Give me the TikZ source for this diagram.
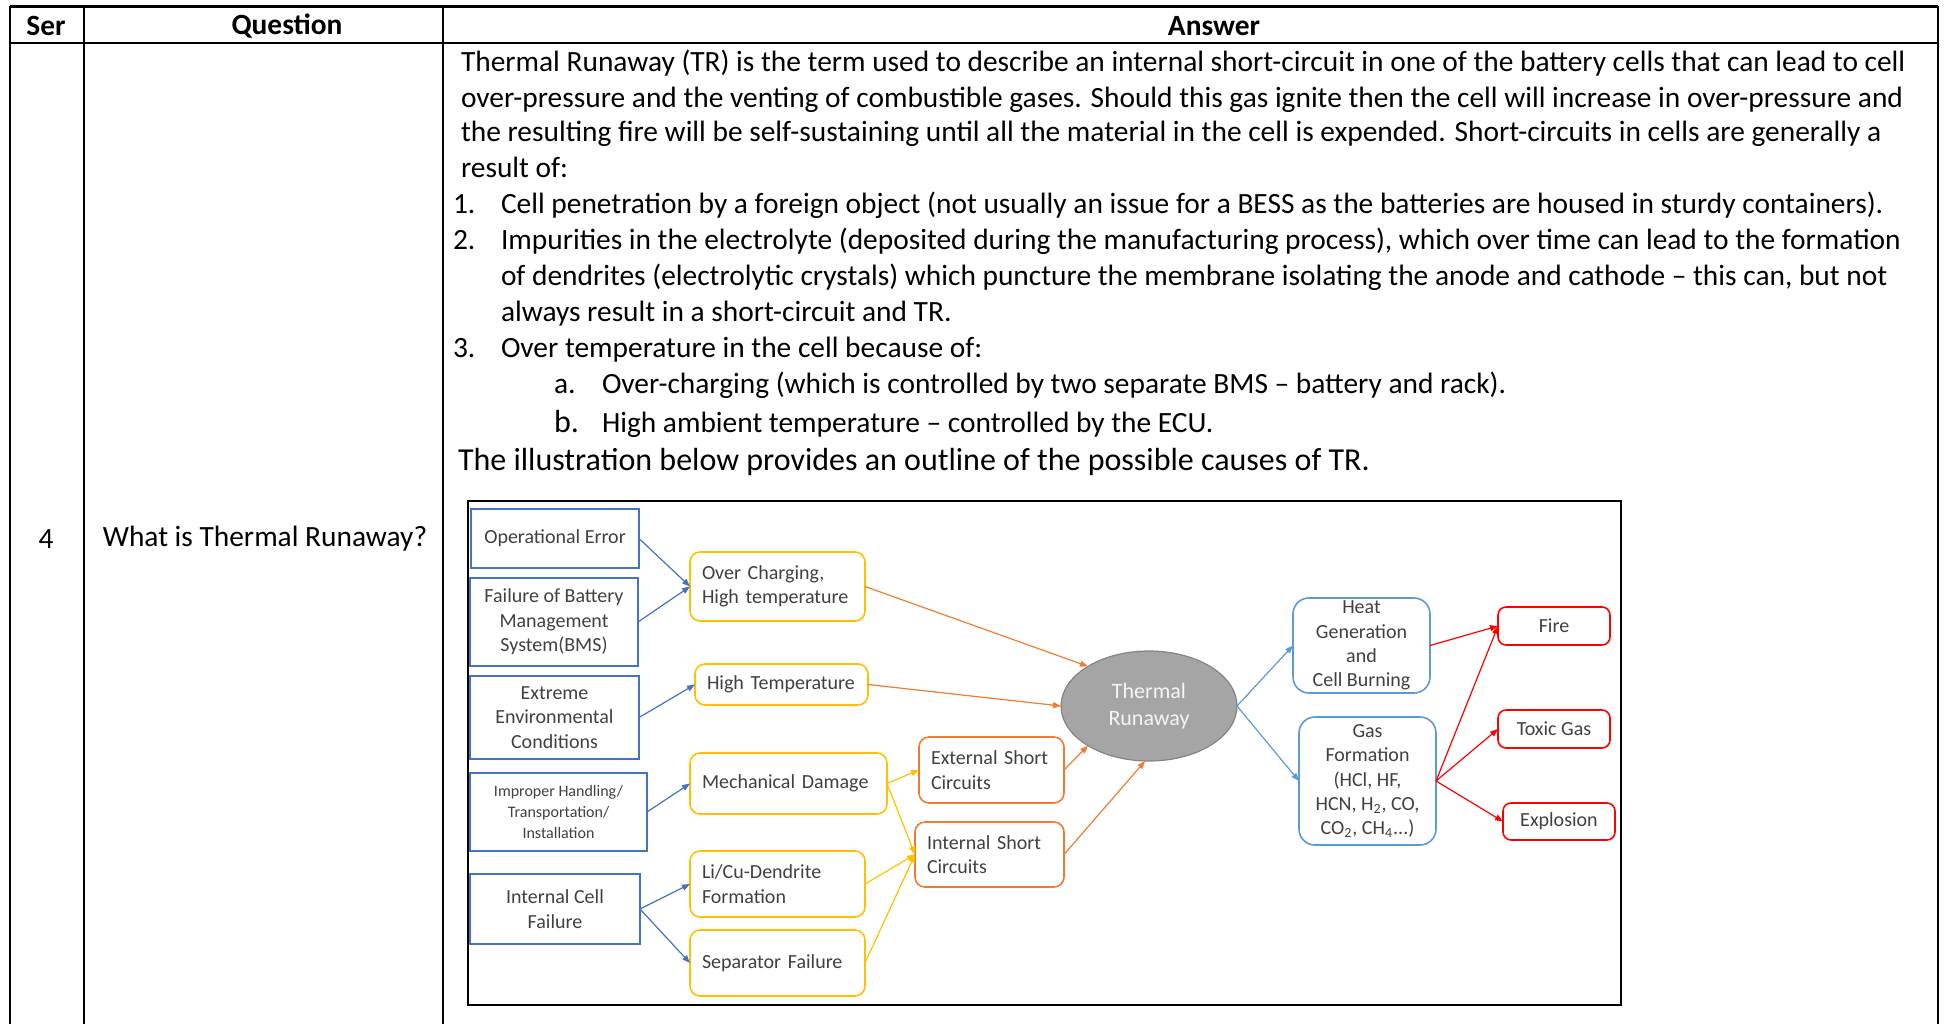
\documentclass[tikz,border=0pt]{standalone}
\usepackage{fontspec}
\setmainfont{Carlito}
\usetikzlibrary{arrows.meta,shapes.geometric}
\definecolor{causeblue}{HTML}{4472C4}
\definecolor{eventyellow}{HTML}{FFC000}
\definecolor{shortorange}{HTML}{ED7D31}
\definecolor{effectblue}{HTML}{5B9BD5}
\definecolor{hazardred}{HTML}{FF0000}
\definecolor{runawaygray}{HTML}{A5A5A5}
\definecolor{labelgray}{HTML}{404040}

\begin{document}
\begin{tikzpicture}[x=0.5pt, y=-0.5pt,
  every node/.style={inner sep=0pt, outer sep=0pt},
  headcell/.style={font=\fontsize{14.7}{17.7}\selectfont\bfseries},
  bodycell/.style={font=\fontsize{14.7}{17.7}\selectfont},
  textline/.style={bodycell, anchor=west, text height=10pt, text depth=3pt},
  diabox/.style={draw, line width=0.8pt, font=\fontsize{10}{12.2}\selectfont, text=labelgray, inner xsep=6pt, inner ysep=1pt},
  causebox/.style={diabox, draw=causeblue, align=center},
  eventbox/.style={diabox, draw=eventyellow, rounded corners=5pt, align=left},
  shortbox/.style={diabox, draw=shortorange, rounded corners=5pt, align=left},
  effectbox/.style={diabox, draw=effectblue, rounded corners=8pt, align=center},
  hazardbox/.style={diabox, draw=hazardred, rounded corners=4pt, align=center},
  link/.style={-{Triangle[length=4pt,width=3pt]}, line width=0.6pt},
]
\useasboundingbox (0,0) rectangle (1945,1024);

% table
\draw[line width=1.5pt] (10,6) -- (1938,6);
\draw[line width=1.3pt] (10,43) -- (1938,43);
\foreach \colx in {10,84,443,1938}
  \draw[line width=0.9pt] (\colx,6) -- (\colx,1024);

\node[headcell] (serHead) at (46,26) {Ser};
\node[headcell] (questionHead) at (287,26) {Question};
\node[headcell] (answerHead) at (1214,26) {Answer};
\node[bodycell] (serNo) at (46,539) {4};
\node[bodycell] (question) at (265,539) {What is Thermal Runaway?};

\node[textline] (para1) at (461,64) {Thermal Runaway (TR) is the term used to describe an internal short-circuit in one of the battery cells that can lead to cell};
\node[textline] (para2) at (461,100) {over-pressure and the venting of combustible gases. Should this gas ignite then the cell will increase in over-pressure and};
\node[textline] (para3) at (461,134) {the resulting fire will be self-sustaining until all the material in the cell is expended. Short-circuits in cells are generally a};
\node[textline] (para4) at (461,170) {result of:};
\node[textline] (num1) at (453,206) {1.};
\node[textline] (item1) at (501,206) {Cell penetration by a foreign object (not usually an issue for a BESS as the batteries are housed in sturdy containers).};
\node[textline] (num2) at (453,242) {2.};
\node[textline] (item2a) at (501,242) {Impurities in the electrolyte (deposited during the manufacturing process), which over time can lead to the formation};
\node[textline] (item2b) at (501,278) {of dendrites (electrolytic crystals) which puncture the membrane isolating the anode and cathode -- this can, but not};
\node[textline] (item2c) at (501,314) {always result in a short-circuit and TR.};
\node[textline] (num3) at (453,350) {3.};
\node[textline] (item3) at (501,350) {Over temperature in the cell because of:};
\node[textline] (subA) at (554,386) {a.};
\node[textline] (itemA) at (602,386) {Over-charging (which is controlled by two separate BMS -- battery and rack).};
\node[textline, font=\fontsize{16}{19}\selectfont] (subB) at (554,425) {b.};
\node[textline] (itemB) at (602,425) {High ambient temperature -- controlled by the ECU.};
\node[textline, font=\fontsize{16}{19}\selectfont] (outro) at (458,463) {The illustration below provides an outline of the possible causes of TR.};

% diagram
\draw[line width=1.2pt] (468,501) rectangle (1621,1005);

\node[causebox, minimum width=84pt, minimum height=29.5pt] (opErr) at (555,538.5) {Operational Error};
\node[causebox, minimum width=84pt, minimum height=44pt] (bmsFail) at (554,622) {Failure of Battery\\Management\\System(BMS)};
\node[causebox, minimum width=84.5pt, minimum height=41.5pt] (extEnv) at (554.5,717.5) {Extreme\\Environmental\\Conditions};
\node[causebox, minimum width=88.5pt, minimum height=39pt, font=\fontsize{8}{10.5}\selectfont] (handling) at (558.5,812) {Improper Handling/\\Transportation/\\Installation};
\node[causebox, minimum width=85pt, minimum height=35pt] (cellFail) at (555,909) {Internal Cell\\Failure};

\node[eventbox, text width=75.5pt, minimum height=34.5pt] (overCharge) at (777.5,586.5) {Over Charging,\\High temperature};
\node[eventbox, text width=74.5pt, minimum height=20.5pt] (highTemp) at (781.5,684.5) {High Temperature};
\node[eventbox, text width=86.5pt, minimum height=30.5pt] (mechDamage) at (788.5,783.5) {Mechanical Damage};
\node[eventbox, text width=75.5pt, minimum height=33pt] (dendrite) at (777.5,884) {Li/Cu-Dendrite\\Formation};
\node[eventbox, text width=75.5pt, minimum height=33pt] (separator) at (777.5,963) {Separator Failure};

\node[shortbox, text width=60.5pt, minimum height=33pt] (extShort) at (991.5,770) {External Short\\Circuits};
\node[shortbox, text width=62.5pt, minimum height=32.5pt] (intShort) at (989.5,854.5) {Internal Short\\Circuits};

\node[ellipse, fill=runawaygray, draw=runawaygray!80!black, line width=0.6pt, minimum width=88pt, minimum height=55pt, text=white!92!gray, align=center, font=\fontsize{11}{13.5}\selectfont] (thermal) at (1149,706) {Thermal\\Runaway};

\node[effectbox, minimum width=68.5pt, minimum height=47.5pt] (heatGen) at (1361.5,645.5) {Heat\\Generation\\and\\Cell Burning};
\node[effectbox, minimum width=68.5pt, minimum height=64pt] (gasForm) at (1367.5,781) {Gas\\Formation\\(HCl, HF,\\HCN, H\textsubscript{2}, CO,\\CO\textsubscript{2}, CH\textsubscript{4}...)};

\node[hazardbox, minimum width=56pt, minimum height=19pt] (fire) at (1554,626) {Fire};
\node[hazardbox, minimum width=56pt, minimum height=19pt] (toxic) at (1554,729) {Toxic Gas};
\node[hazardbox, minimum width=56pt, minimum height=18.5pt] (explosion) at (1559,821.5) {Explosion};

\draw[link, causeblue] (opErr.east) -- (overCharge.west);
\draw[link, causeblue] (bmsFail.east) -- (overCharge.west);
\draw[link, causeblue] (extEnv.east) -- (highTemp.west);
\draw[link, causeblue] (handling.east) -- (mechDamage.west);
\draw[link, causeblue] (cellFail.east) -- (dendrite.west);
\draw[link, causeblue] (cellFail.east) -- (separator.west);

\draw[link, eventyellow] (mechDamage.east) -- (extShort.west);
\draw[link, eventyellow] (mechDamage.east) -- (intShort.west);
\draw[link, eventyellow] (dendrite.east) -- (intShort.west);
\draw[link, eventyellow] (separator.east) -- (intShort.west);

\draw[link, shortorange] (overCharge.east) -- (thermal.147);
\draw[link, shortorange] (highTemp.east) -- (thermal.west);
\draw[link, shortorange] (extShort.east) -- (thermal.213);
\draw[link, shortorange] (intShort.east) -- (thermal.266);

\draw[link, effectblue] (thermal.east) -- (heatGen.west);
\draw[link, effectblue] (thermal.east) -- (gasForm.west);

\draw[link, hazardred] (heatGen.east) -- (fire.west);
\draw[link, hazardred] (gasForm.east) -- (fire.west);
\draw[link, hazardred] (gasForm.east) -- (toxic.west);
\draw[link, hazardred] (gasForm.east) -- (explosion.west);
\end{tikzpicture}
\end{document}
